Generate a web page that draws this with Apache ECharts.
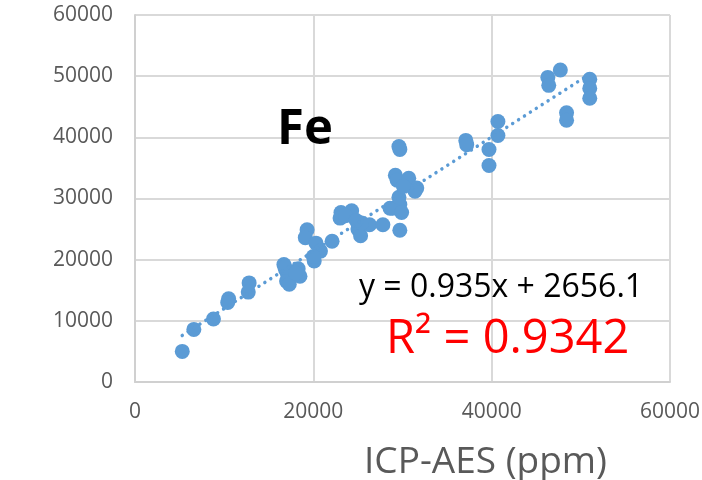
<!DOCTYPE html>
<html><head><meta charset="utf-8">
<script src="https://cdn.jsdelivr.net/npm/echarts@6/dist/echarts.min.js"></script>
<style>html,body{margin:0;padding:0;background:#fff}#c{width:702px;height:480px}</style>
</head><body><div id="c"></div>
<script>
const icpX = [5300,6600,8800,10500,10400,12800,12700,16700,16900,17100,17000,17300,16800,18300,18500,18000,19300,19100,20300,20800,20100,20000,22100,23100,24300,23000,23600,25000,25300,26300,25400,24800,27800,28600,29700,29600,29700,29200,29400,30700,31600,31400,29700,28900,29900,29600,30100,37100,37200,39700,39700,40700,40700,46300,46400,47700,48400,48400,51000,51000,51000];
const measY = [5000,8600,10300,13600,13000,16200,14700,19200,18300,17700,16500,16000,18800,18500,17300,17800,24900,23600,22700,21400,19800,20500,23000,27700,28000,26800,27200,25000,23900,25700,26000,26400,25700,28400,24800,38500,38000,33800,33000,33300,31700,31200,29000,28400,27700,30200,32000,39500,38800,38000,35400,42600,40300,49800,48500,51000,44000,42800,49500,48000,46400];
const slope = 0.935, intercept = 2656.1;
const trendRange = [5300, 51000];
const xTitle = 'ICP-AES (ppm)';
const elementLabel = 'Fe';
const eqText = 'y = 0.935x + 2656.1';
const r2Text = 'R² = 0.9342';

const pts = icpX.map((x,i)=>[x, measY[i]]);
const trend = trendRange.map(x=>[x, slope*x+intercept]);
const chart = echarts.init(document.getElementById('c'), null, {renderer:'canvas'});
const FONT = '"Open Sans", sans-serif';
chart.setOption({
  animation:false,
  grid:{left:135, top:15, right:32, bottom:98, outerBoundsMode:'none', containLabel:false},
  xAxis:{type:'value', min:0, max:60000, interval:20000,
    axisLine:{show:true, lineStyle:{color:'#d0d0d0', width:2}},
    axisTick:{show:false},
    axisLabel:{color:'#595959', fontSize:21, fontFamily:FONT, margin:20, formatter:v=>String(v)},
    splitLine:{show:true, lineStyle:{color:'#d9d9d9', width:2}},
    name:xTitle, nameLocation:'middle', nameGap:62,
    nameTextStyle:{color:'#595959', fontSize:37, fontFamily:FONT, padding:[0,0,0,166]}
  },
  yAxis:{type:'value', min:0, max:60000, interval:10000,
    axisLine:{show:true, lineStyle:{color:'#d0d0d0', width:2}},
    axisTick:{show:false},
    axisLabel:{color:'#595959', fontSize:21, fontFamily:FONT, margin:22, formatter:v=>String(v)},
    splitLine:{show:true, lineStyle:{color:'#d9d9d9', width:2}}
  },
  series:[
    {type:'scatter', data:pts, symbolSize:15, itemStyle:{color:'#5b9bd5', opacity:1}, z:3},
    {type:'line', data:trend, showSymbol:false, symbol:'none',
      lineStyle:{color:'#5b9bd5', width:3.5, type:[0.01,7], cap:'round'}, z:4}
  ],
  graphic:[
    {type:'text', x:277, y:130, z:100, style:{text:elementLabel, font:'bold 49px '+FONT, fill:'#000', verticalAlign:'middle'}},
    {type:'text', x:359, y:288, z:100, style:{text:eqText, font:'32px '+FONT, fill:'#000', verticalAlign:'middle'}},
    {type:'text', x:386, y:340, z:100, style:{text:r2Text, font:'47px '+FONT, fill:'#ff0000', verticalAlign:'middle'}}
  ]
});
</script></body></html>
